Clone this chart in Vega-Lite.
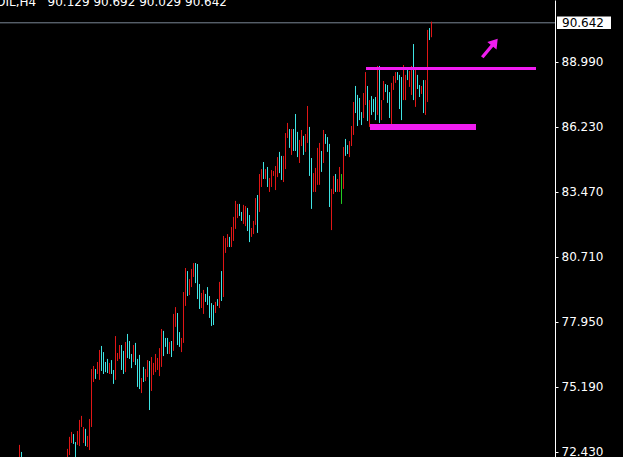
{
  "$schema": "https://vega.github.io/schema/vega-lite/v6.json",
  "width": 555,
  "height": 457,
  "autosize": "none",
  "padding": {"left": 0, "top": 0, "right": 68, "bottom": 0},
  "background": "#000000",
  "config": {"view": {"stroke": null}, "axis": {"grid": false}},
  "title": {"text": "OIL,H4\u00a0\u00a0\u00a090.129 90.692 90.029 90.642", "anchor": "start", "frame": "group", "orient": "top", "offset": -18, "dx": -4, "color": "#ffffff", "font": "DejaVu Sans", "fontSize": 12, "fontWeight": "normal", "baseline": "alphabetic"},
  "datasets": {
    "bars": [
      {"t":9,"high":72.72,"low":71.9,"dir":"up"},{"t":10,"high":72.42,"low":71.9,"dir":"down"},
      {"t":33,"high":72.55,"low":71.99,"dir":"up"},{"t":34,"high":73.06,"low":72.29,"dir":"up"},{"t":35,"high":73.27,"low":72.8,"dir":"up"},{"t":36,"high":73.18,"low":72.76,"dir":"down"},{"t":37,"high":72.84,"low":72.08,"dir":"down"},{"t":38,"high":73.31,"low":72.72,"dir":"up"},{"t":39,"high":73.78,"low":72.67,"dir":"up"},{"t":40,"high":73.95,"low":73.48,"dir":"up"},{"t":41,"high":73.48,"low":72.8,"dir":"up"},{"t":42,"high":73.4,"low":72.67,"dir":"down"},{"t":43,"high":73.1,"low":72.63,"dir":"up"},{"t":44,"high":73.82,"low":72.5,"dir":"up"},{"t":45,"high":75.94,"low":73.48,"dir":"up"},{"t":46,"high":76.07,"low":75.39,"dir":"up"},{"t":47,"high":75.94,"low":75.52,"dir":"down"},{"t":48,"high":76.24,"low":75.73,"dir":"up"},{"t":49,"high":76.75,"low":75.48,"dir":"up"},{"t":50,"high":76.92,"low":75.86,"dir":"down"},{"t":51,"high":76.66,"low":75.73,"dir":"down"},{"t":52,"high":76.24,"low":75.81,"dir":"down"},{"t":53,"high":76.37,"low":75.77,"dir":"down"},{"t":54,"high":76.2,"low":75.73,"dir":"up"},{"t":55,"high":76.32,"low":75.73,"dir":"down"},{"t":56,"high":75.9,"low":75.31,"dir":"down"},{"t":57,"high":77.34,"low":75.48,"dir":"up"},{"t":58,"high":76.62,"low":76.28,"dir":"up"},{"t":59,"high":76.96,"low":76.37,"dir":"up"},{"t":60,"high":76.96,"low":75.9,"dir":"down"},{"t":61,"high":76.71,"low":75.73,"dir":"down"},{"t":62,"high":77.09,"low":75.81,"dir":"up"},{"t":63,"high":77.43,"low":76.41,"dir":"down"},{"t":64,"high":77.13,"low":76.37,"dir":"down"},{"t":65,"high":76.58,"low":75.98,"dir":"down"},{"t":66,"high":76.96,"low":76.24,"dir":"up"},{"t":67,"high":77.05,"low":76.11,"dir":"down"},{"t":68,"high":76.37,"low":75.18,"dir":"down"},{"t":69,"high":76.54,"low":75.09,"dir":"down"},{"t":70,"high":75.56,"low":74.92,"dir":"up"},{"t":71,"high":76.03,"low":75.39,"dir":"down"},{"t":72,"high":75.94,"low":75.43,"dir":"up"},{"t":73,"high":76.32,"low":75.6,"dir":"up"},{"t":74,"high":76.28,"low":74.2,"dir":"down"},{"t":75,"high":76.45,"low":75.01,"dir":"up"},{"t":76,"high":76.2,"low":75.69,"dir":"up"},{"t":77,"high":76.58,"low":75.81,"dir":"up"},{"t":78,"high":76.41,"low":75.9,"dir":"up"},{"t":79,"high":76.83,"low":75.64,"dir":"up"},{"t":80,"high":77.64,"low":76.03,"dir":"up"},{"t":81,"high":77.56,"low":76.49,"dir":"down"},{"t":82,"high":77.26,"low":76.88,"dir":"down"},{"t":83,"high":77.26,"low":76.58,"dir":"down"},{"t":84,"high":77.09,"low":76.58,"dir":"up"},{"t":85,"high":77.13,"low":76.45,"dir":"down"},{"t":86,"high":78.28,"low":76.71,"dir":"up"},{"t":87,"high":78.57,"low":77.73,"dir":"up"},{"t":88,"high":78.32,"low":76.96,"dir":"down"},{"t":89,"high":77.51,"low":76.88,"dir":"down"},{"t":90,"high":77.26,"low":76.66,"dir":"up"},{"t":91,"high":79.21,"low":77.05,"dir":"up"},{"t":92,"high":80.23,"low":78.62,"dir":"up"},{"t":93,"high":80.1,"low":79.04,"dir":"down"},{"t":94,"high":79.76,"low":79.08,"dir":"up"},{"t":95,"high":80.19,"low":79.42,"dir":"up"},{"t":96,"high":80.44,"low":79.85,"dir":"up"},{"t":97,"high":80.44,"low":79.59,"dir":"down"},{"t":98,"high":80.4,"low":78.91,"dir":"down"},{"t":99,"high":79.55,"low":78.49,"dir":"down"},{"t":100,"high":79.17,"low":78.53,"dir":"up"},{"t":101,"high":79.3,"low":78.28,"dir":"up"},{"t":102,"high":79.13,"low":78.79,"dir":"down"},{"t":103,"high":79.42,"low":78.66,"dir":"down"},{"t":104,"high":79.04,"low":78.11,"dir":"down"},{"t":105,"high":78.74,"low":77.77,"dir":"down"},{"t":106,"high":78.66,"low":77.81,"dir":"down"},{"t":107,"high":78.79,"low":78.32,"dir":"up"},{"t":108,"high":78.91,"low":78.62,"dir":"down"},{"t":109,"high":79.64,"low":78.53,"dir":"up"},{"t":110,"high":80.1,"low":78.83,"dir":"down"},{"t":111,"high":81.59,"low":79.0,"dir":"up"},{"t":112,"high":81.5,"low":80.87,"dir":"up"},{"t":113,"high":81.67,"low":81.12,"dir":"up"},{"t":114,"high":81.55,"low":81.12,"dir":"down"},{"t":115,"high":81.97,"low":81.12,"dir":"up"},{"t":116,"high":82.4,"low":81.38,"dir":"up"},{"t":117,"high":83.08,"low":81.89,"dir":"up"},{"t":118,"high":82.95,"low":82.35,"dir":"up"},{"t":119,"high":82.95,"low":82.44,"dir":"down"},{"t":120,"high":82.61,"low":82.23,"dir":"down"},{"t":121,"high":82.91,"low":82.1,"dir":"up"},{"t":122,"high":82.86,"low":82.01,"dir":"up"},{"t":123,"high":82.78,"low":81.8,"dir":"down"},{"t":124,"high":82.48,"low":81.33,"dir":"down"},{"t":125,"high":81.93,"low":81.55,"dir":"up"},{"t":126,"high":82.23,"low":81.67,"dir":"up"},{"t":127,"high":83.2,"low":82.06,"dir":"up"},{"t":128,"high":83.33,"low":81.72,"dir":"down"},{"t":129,"high":84.22,"low":82.61,"dir":"up"},{"t":130,"high":84.43,"low":83.67,"dir":"up"},{"t":131,"high":84.73,"low":84.01,"dir":"down"},{"t":132,"high":84.43,"low":84.01,"dir":"up"},{"t":133,"high":84.52,"low":83.67,"dir":"down"},{"t":134,"high":84.05,"low":83.46,"dir":"up"},{"t":135,"high":84.39,"low":83.67,"dir":"up"},{"t":136,"high":84.35,"low":84.14,"dir":"up"},{"t":137,"high":84.56,"low":83.54,"dir":"up"},{"t":138,"high":84.94,"low":84.09,"dir":"up"},{"t":139,"high":85.16,"low":84.26,"dir":"down"},{"t":140,"high":84.99,"low":83.97,"dir":"down"},{"t":141,"high":84.99,"low":83.88,"dir":"up"},{"t":142,"high":85.96,"low":84.43,"dir":"up"},{"t":143,"high":86.39,"low":85.75,"dir":"up"},{"t":144,"high":86.13,"low":85.33,"dir":"down"},{"t":145,"high":86.13,"low":85.03,"dir":"up"},{"t":146,"high":86.13,"low":85.2,"dir":"down"},{"t":147,"high":86.77,"low":85.2,"dir":"down"},{"t":148,"high":86.01,"low":84.94,"dir":"down"},{"t":149,"high":85.67,"low":84.69,"dir":"up"},{"t":150,"high":86.09,"low":85.41,"dir":"up"},{"t":151,"high":85.84,"low":85.03,"dir":"down"},{"t":152,"high":85.92,"low":85.16,"dir":"up"},{"t":153,"high":87.11,"low":85.54,"dir":"up"},{"t":154,"high":86.22,"low":84.14,"dir":"down"},{"t":155,"high":84.9,"low":82.74,"dir":"down"},{"t":156,"high":84.26,"low":83.46,"dir":"up"},{"t":157,"high":84.48,"low":83.46,"dir":"up"},{"t":158,"high":85.33,"low":83.76,"dir":"up"},{"t":159,"high":85.54,"low":83.76,"dir":"up"},{"t":160,"high":85.2,"low":84.31,"dir":"down"},{"t":161,"high":86.09,"low":84.69,"dir":"up"},{"t":162,"high":85.92,"low":85.5,"dir":"down"},{"t":163,"high":85.79,"low":85.16,"dir":"down"},{"t":164,"high":85.5,"low":82.82,"dir":"down"},{"t":165,"high":83.59,"low":81.84,"dir":"up"},{"t":166,"high":84.14,"low":83.37,"dir":"up"},{"t":167,"high":84.22,"low":83.46,"dir":"down"},{"t":168,"high":84.01,"low":83.46,"dir":"up"},{"t":169,"high":84.52,"low":83.46,"dir":"up"},{"t":170,"high":84.22,"low":82.95,"dir":"flat"},{"t":171,"high":85.37,"low":83.59,"dir":"up"},{"t":172,"high":85.71,"low":84.99,"dir":"down"},{"t":173,"high":85.45,"low":85.07,"dir":"down"},{"t":174,"high":85.62,"low":84.94,"dir":"up"},{"t":175,"high":86.26,"low":85.41,"dir":"up"},{"t":176,"high":87.28,"low":85.88,"dir":"up"},{"t":177,"high":87.96,"low":86.81,"dir":"down"},{"t":178,"high":87.58,"low":86.26,"dir":"down"},{"t":179,"high":87.45,"low":86.51,"dir":"down"},{"t":180,"high":86.85,"low":86.3,"dir":"down"},{"t":181,"high":87.66,"low":86.6,"dir":"up"},{"t":182,"high":88.55,"low":87.15,"dir":"up"},{"t":183,"high":87.96,"low":86.47,"dir":"down"},{"t":184,"high":87.36,"low":86.22,"dir":"up"},{"t":185,"high":87.53,"low":86.73,"dir":"down"},{"t":186,"high":87.41,"low":86.85,"dir":"down"},{"t":187,"high":87.49,"low":86.51,"dir":"down"},{"t":188,"high":88.81,"low":86.73,"dir":"up"},{"t":189,"high":88.81,"low":86.39,"dir":"down"},{"t":190,"high":87.36,"low":86.51,"dir":"up"},{"t":191,"high":88.17,"low":87.36,"dir":"up"},{"t":192,"high":88.04,"low":87.7,"dir":"down"},{"t":193,"high":88.0,"low":87.24,"dir":"down"},{"t":194,"high":87.7,"low":86.6,"dir":"down"},{"t":195,"high":88.09,"low":86.34,"dir":"up"},{"t":196,"high":88.38,"low":87.79,"dir":"up"},{"t":197,"high":88.55,"low":88.09,"dir":"up"},{"t":198,"high":88.55,"low":88.21,"dir":"down"},{"t":199,"high":88.43,"low":86.98,"dir":"down"},{"t":200,"high":88.34,"low":86.51,"dir":"down"},{"t":201,"high":88.85,"low":87.36,"dir":"up"},{"t":202,"high":88.43,"low":87.36,"dir":"up"},{"t":203,"high":88.64,"low":88.21,"dir":"down"},{"t":204,"high":88.6,"low":87.92,"dir":"up"},{"t":205,"high":88.81,"low":87.58,"dir":"up"},{"t":206,"high":89.74,"low":87.36,"dir":"down"},{"t":207,"high":88.64,"low":87.07,"dir":"up"},{"t":208,"high":88.43,"low":87.83,"dir":"down"},{"t":209,"high":88.0,"low":87.49,"dir":"down"},{"t":210,"high":87.96,"low":87.62,"dir":"up"},{"t":211,"high":88.21,"low":86.81,"dir":"down"},{"t":212,"high":88.21,"low":86.73,"dir":"up"},{"t":213,"high":90.34,"low":87.28,"dir":"up"},{"t":214,"high":90.42,"low":89.91,"dir":"down"},{"t":215,"high":90.692,"low":90.029,"dir":"up"}
    ],
    "levels": [
      {"name": "resistance", "t0": 182.25, "t1": 267.25, "price": 88.70},
      {"name": "support", "t0": 184.25, "t1": 237.25, "price": 86.22}
    ],
    "arrow": [{"t": 244.25, "price": 89.57}],
    "last": [{"price": 90.642, "label": "90.642"}]
  },
  "layer": [
    {
      "data": {"name": "last"},
      "mark": {"type": "rule", "color": "#7a8794", "strokeWidth": 1},
      "encoding": {
        "y": {"field": "price", "type": "quantitative", "scale": {"domain": [72.205, 91.61], "nice": false, "zero": false}, "axis": {"orient": "right", "title": null, "values": [72.43, 75.19, 77.95, 80.71, 83.47, 86.23, 88.99, 91.75], "format": ".3f", "labelFont": "DejaVu Sans", "labelFontSize": 12, "labelColor": "#ffffff", "domainColor": "#ffffff", "tickColor": "#ffffff", "tickSize": 3, "labelPadding": 3, "labelFlush": false, "labelOverlap": false, "labelBound": false}}
      }
    },
    {
      "data": {"name": "bars"},
      "mark": {"type": "rule", "strokeWidth": 1, "clip": true},
      "encoding": {
        "x": {"field": "t", "type": "quantitative", "scale": {"domain": [-0.75, 276.75], "nice": false, "zero": false}, "axis": null},
        "y": {"field": "low", "type": "quantitative", "scale": {"domain": [72.205, 91.61], "nice": false, "zero": false}},
        "y2": {"field": "high"},
        "color": {"field": "dir", "type": "nominal", "scale": {"domain": ["up", "down", "flat"], "range": ["#e01616", "#3ee4e4", "#22cc22"]}, "legend": null}
      }
    },
    {
      "data": {"name": "levels"},
      "transform": [{"filter": "datum.name === 'resistance'"}],
      "mark": {"type": "rule", "color": "#f01cf0", "strokeWidth": 3},
      "encoding": {
        "x": {"field": "t0", "type": "quantitative", "scale": {"domain": [-0.75, 276.75], "nice": false, "zero": false}},
        "x2": {"field": "t1"},
        "y": {"field": "price", "type": "quantitative", "scale": {"domain": [72.205, 91.61], "nice": false, "zero": false}}
      }
    },
    {
      "data": {"name": "levels"},
      "transform": [{"filter": "datum.name === 'support'"}],
      "mark": {"type": "rule", "color": "#f01cf0", "strokeWidth": 6},
      "encoding": {
        "x": {"field": "t0", "type": "quantitative", "scale": {"domain": [-0.75, 276.75], "nice": false, "zero": false}},
        "x2": {"field": "t1"},
        "y": {"field": "price", "type": "quantitative", "scale": {"domain": [72.205, 91.61], "nice": false, "zero": false}}
      }
    },
    {
      "data": {"name": "arrow"},
      "mark": {"type": "point", "shape": "M0,-1L0.5,-0.25L0.14,-0.25L0.14,1L-0.14,1L-0.14,-0.25L-0.5,-0.25Z", "size": 576, "angle": 40, "filled": true, "color": "#f01cf0", "opacity": 1},
      "encoding": {
        "x": {"field": "t", "type": "quantitative", "scale": {"domain": [-0.75, 276.75], "nice": false, "zero": false}},
        "y": {"field": "price", "type": "quantitative", "scale": {"domain": [72.205, 91.61], "nice": false, "zero": false}}
      }
    },
    {
      "data": {"name": "last"},
      "mark": {"type": "point", "shape": "M-1,-0.233H1V0.233H-1Z", "size": 2916, "filled": true, "color": "#ffffff", "opacity": 1},
      "encoding": {
        "x": {"datum": 291.25, "type": "quantitative", "scale": {"domain": [-0.75, 276.75], "nice": false, "zero": false}},
        "y": {"field": "price", "type": "quantitative", "scale": {"domain": [72.205, 91.61], "nice": false, "zero": false}}
      }
    },
    {
      "data": {"name": "last"},
      "mark": {"type": "text", "align": "left", "baseline": "middle", "font": "DejaVu Sans", "fontSize": 12, "color": "#000000"},
      "encoding": {
        "x": {"datum": 280.25, "type": "quantitative", "scale": {"domain": [-0.75, 276.75], "nice": false, "zero": false}},
        "y": {"field": "price", "type": "quantitative", "scale": {"domain": [72.205, 91.61], "nice": false, "zero": false}},
        "text": {"field": "label"}
      }
    }
  ]
}
